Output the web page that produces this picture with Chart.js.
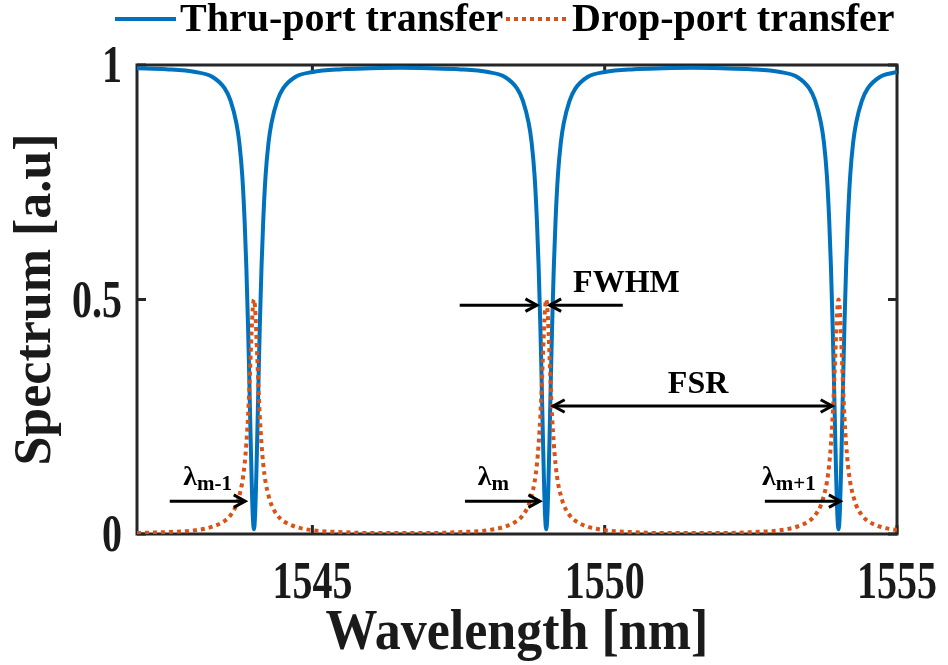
<!DOCTYPE html>
<html>
<head>
<meta charset="utf-8">
<script src="https://cdn.jsdelivr.net/npm/chart.js@4.4.1/dist/chart.umd.min.js"></script>
<style>
  html, body { margin: 0; padding: 0; background: #ffffff; }
  canvas { display: block; }
</style>
</head>
<body>
<canvas id="spectrum" width="948" height="665"></canvas>
<script>
// Wavelength samples [nm], dense around the three resonances
const wavelength = [
  1542.0, 1542.5, 1543.0, 1543.3, 1543.5, 1543.6, 1543.7, 1543.75, 1543.8, 1543.84, 1543.87,
  1543.9, 1543.92, 1543.94, 1543.96, 1543.98, 1544.0, 1544.02, 1544.04, 1544.06, 1544.08,
  1544.1, 1544.13, 1544.16, 1544.2, 1544.25, 1544.3, 1544.4, 1544.5, 1544.7, 1545.0, 1545.5, 1546.0,
  1546.5,
  1547.0, 1547.5, 1548.0, 1548.3, 1548.5, 1548.6, 1548.7, 1548.75, 1548.8, 1548.84, 1548.87,
  1548.9, 1548.92, 1548.94, 1548.96, 1548.98, 1549.0, 1549.02, 1549.04, 1549.06, 1549.08,
  1549.1, 1549.13, 1549.16, 1549.2, 1549.25, 1549.3, 1549.4, 1549.5, 1549.7, 1550.0, 1550.5, 1551.0,
  1551.5,
  1552.0, 1552.5, 1553.0, 1553.3, 1553.5, 1553.6, 1553.7, 1553.75, 1553.8, 1553.84, 1553.87,
  1553.9, 1553.92, 1553.94, 1553.96, 1553.98, 1554.0, 1554.02, 1554.04, 1554.06, 1554.08,
  1554.1, 1554.13, 1554.16, 1554.2, 1554.25, 1554.3, 1554.4, 1554.5, 1554.7, 1555.0
];

// Through-port transmission [a.u]
const thruPort = [
  0.993, 0.991, 0.985, 0.974, 0.950, 0.924, 0.876, 0.835, 0.765, 0.670, 0.570,
  0.440, 0.335, 0.225, 0.120, 0.040, 0.010, 0.040, 0.120, 0.225, 0.335,
  0.440, 0.570, 0.670, 0.765, 0.835, 0.876, 0.924, 0.950, 0.974, 0.985, 0.991, 0.993,
  0.994,
  0.993, 0.991, 0.985, 0.974, 0.950, 0.924, 0.876, 0.835, 0.765, 0.670, 0.570,
  0.440, 0.335, 0.225, 0.120, 0.040, 0.010, 0.040, 0.120, 0.225, 0.335,
  0.440, 0.570, 0.670, 0.765, 0.835, 0.876, 0.924, 0.950, 0.974, 0.985, 0.991, 0.993,
  0.994,
  0.993, 0.991, 0.985, 0.974, 0.950, 0.924, 0.876, 0.835, 0.765, 0.670, 0.570,
  0.440, 0.335, 0.225, 0.120, 0.040, 0.010, 0.040, 0.120, 0.225, 0.335,
  0.440, 0.570, 0.670, 0.765, 0.835, 0.876, 0.924, 0.950, 0.974, 0.985
];

// Drop-port transmission [a.u]
const dropPort = [
  0.002, 0.004, 0.008, 0.016, 0.028, 0.040, 0.062, 0.082, 0.110, 0.148, 0.192,
  0.252, 0.306, 0.368, 0.431, 0.481, 0.500, 0.481, 0.431, 0.368, 0.306,
  0.252, 0.192, 0.148, 0.110, 0.082, 0.062, 0.040, 0.028, 0.016, 0.008, 0.004, 0.002,
  0.002,
  0.002, 0.004, 0.008, 0.016, 0.028, 0.040, 0.062, 0.082, 0.110, 0.148, 0.192,
  0.252, 0.306, 0.368, 0.431, 0.481, 0.500, 0.481, 0.431, 0.368, 0.306,
  0.252, 0.192, 0.148, 0.110, 0.082, 0.062, 0.040, 0.028, 0.016, 0.008, 0.004, 0.002,
  0.002,
  0.002, 0.004, 0.008, 0.016, 0.028, 0.040, 0.062, 0.082, 0.110, 0.148, 0.192,
  0.252, 0.306, 0.368, 0.431, 0.481, 0.500, 0.481, 0.431, 0.368, 0.306,
  0.252, 0.192, 0.148, 0.110, 0.082, 0.062, 0.040, 0.028, 0.016, 0.008
];

const xTickValues = [1545, 1550, 1555];
const yTickValues = [0, 0.5, 1];
const yTickLabels = ['0', '0.5', '1'];

const seriesNames = ['Thru-port transfer', 'Drop-port transfer'];
const seriesColors = ['#0072BD', '#D95319'];

// Annotation arrows in data units: [x1, y1, x2, y2, head at start, head at end]
const arrows = [
  [1542.56, 0.070, 1543.85, 0.070, false, true],
  [1547.61, 0.070, 1548.89, 0.070, false, true],
  [1552.74, 0.070, 1554.03, 0.070, false, true],
  [1547.52, 0.488, 1548.84, 0.488, false, true],
  [1550.31, 0.488, 1549.06, 0.488, false, true],
  [1549.12, 0.273, 1553.89, 0.273, true, true]
];
// Resonance labels: [x, y baseline, subscript]
const lambdaLabels = [
  [1542.79, 0.105, 'm-1'],
  [1547.83, 0.105, 'm'],
  [1552.69, 0.105, 'm+1']
];
const textLabels = [
  [1549.46, 0.516, 'FWHM'],
  [1551.08, 0.300, 'FSR']
];

const SERIF = '"Liberation Serif", "Times New Roman", serif';
const INK = '#1a1a1a';

function toPx(chart, x, y) {
  return [chart.scales.x.getPixelForValue(x), chart.scales.y.getPixelForValue(y)];
}

// text drawn with a vertical stretch about its baseline
function tallText(ctx, s, x, y, stretch) {
  ctx.save();
  ctx.translate(x, y);
  ctx.scale(1, stretch);
  ctx.fillText(s, 0, 0);
  ctx.restore();
}

function arrowHead(ctx, tx, ty, fx, fy) {
  const a = Math.atan2(ty - fy, tx - fx);
  const len = 13, spread = 0.5;
  ctx.beginPath();
  ctx.moveTo(tx - len * Math.cos(a - spread), ty - len * Math.sin(a - spread));
  ctx.lineTo(tx, ty);
  ctx.lineTo(tx - len * Math.cos(a + spread), ty - len * Math.sin(a + spread));
  ctx.stroke();
}

const frameAndNotes = {
  id: 'frameAndNotes',
  beforeDatasetsDraw(chart) {
    const { ctx, chartArea: a } = chart;
    ctx.save();
    ctx.strokeStyle = '#262626';
    ctx.lineWidth = 3;
    ctx.strokeRect(a.left, a.top, a.right - a.left, a.bottom - a.top);
    // inward tick marks on all four sides
    chart.scales.x.ticks.forEach(t => {
      const px = chart.scales.x.getPixelForValue(t.value);
      ctx.beginPath();
      ctx.moveTo(px, a.bottom); ctx.lineTo(px, a.bottom - 9);
      ctx.moveTo(px, a.top); ctx.lineTo(px, a.top + 9);
      ctx.stroke();
    });
    chart.scales.y.ticks.forEach(t => {
      const py = chart.scales.y.getPixelForValue(t.value);
      ctx.beginPath();
      ctx.moveTo(a.left, py); ctx.lineTo(a.left + 9, py);
      ctx.moveTo(a.right, py); ctx.lineTo(a.right - 9, py);
      ctx.stroke();
    });
    ctx.restore();
  },
  afterDatasetsDraw(chart) {
    const { ctx } = chart;
    ctx.save();
    ctx.strokeStyle = '#000';
    ctx.fillStyle = '#000';
    ctx.lineWidth = 3;
    ctx.lineCap = 'butt';
    arrows.forEach(([x1, y1, x2, y2, h1, h2]) => {
      const [p1x, p1y] = toPx(chart, x1, y1);
      const [p2x, p2y] = toPx(chart, x2, y2);
      ctx.beginPath();
      ctx.moveTo(p1x, p1y); ctx.lineTo(p2x, p2y);
      ctx.stroke();
      if (h2) arrowHead(ctx, p2x, p2y, p1x, p1y);
      if (h1) arrowHead(ctx, p1x, p1y, p2x, p2y);
    });
    ctx.textBaseline = 'alphabetic';
    ctx.textAlign = 'left';
    lambdaLabels.forEach(([x, y, sub]) => {
      const [px, py] = toPx(chart, x, y);
      ctx.font = 'bold 28px ' + SERIF;
      ctx.fillText('λ', px, py);
      const w = ctx.measureText('λ').width;
      ctx.font = 'bold 21px ' + SERIF;
      ctx.fillText(sub, px + w, py + 5);
    });
    ctx.font = 'bold 32px ' + SERIF;
    textLabels.forEach(([x, y, s]) => {
      const [px, py] = toPx(chart, x, y);
      ctx.fillText(s, px, py);
    });
    ctx.restore();
  },
  afterDraw(chart) {
    const { ctx, chartArea: a } = chart;
    ctx.save();
    ctx.fillStyle = INK;
    ctx.font = 'bold 40px ' + SERIF;
    ctx.textBaseline = 'alphabetic';
    // x tick labels
    ctx.textAlign = 'center';
    chart.scales.x.ticks.forEach(t => {
      tallText(ctx, String(t.value), chart.scales.x.getPixelForValue(t.value), a.bottom + 64, 1.3);
    });
    // y tick labels
    ctx.textAlign = 'right';
    chart.scales.y.ticks.forEach((t, i) => {
      tallText(ctx, yTickLabels[i], a.left - 15, chart.scales.y.getPixelForValue(t.value) + 17, 1.3);
    });
    // axis titles
    ctx.font = 'bold 52px ' + SERIF;
    ctx.textAlign = 'center';
    tallText(ctx, 'Wavelength [nm]', (a.left + a.right) / 2, 649, 1.1);
    ctx.save();
    ctx.translate(50, (a.top + a.bottom) / 2);
    ctx.rotate(-Math.PI / 2);
    ctx.fillText('Spectrum [a.u]', 0, 0);
    ctx.restore();
    // legend
    ctx.font = 'bold 40px ' + SERIF;
    ctx.textAlign = 'left';
    ctx.fillStyle = '#000';
    ctx.lineWidth = 4;
    ctx.strokeStyle = seriesColors[0];
    ctx.beginPath(); ctx.moveTo(115, 19); ctx.lineTo(176, 19); ctx.stroke();
    ctx.fillText(seriesNames[0], 180, 31);
    ctx.strokeStyle = seriesColors[1];
    ctx.setLineDash([4, 4]);
    ctx.beginPath(); ctx.moveTo(506, 19); ctx.lineTo(569, 19); ctx.stroke();
    ctx.setLineDash([]);
    ctx.fillText(seriesNames[1], 572, 31);
    ctx.restore();
  }
};

new Chart(document.getElementById('spectrum'), {
  type: 'line',
  data: {
    labels: wavelength,
    datasets: [
      {
        label: seriesNames[0],
        data: wavelength.map((x, i) => ({ x, y: thruPort[i] })),
        borderColor: seriesColors[0],
        borderWidth: 4,
        pointRadius: 0,
        cubicInterpolationMode: 'monotone',
        fill: false,
        order: 2
      },
      {
        label: seriesNames[1],
        data: wavelength.map((x, i) => ({ x, y: dropPort[i] })),
        borderColor: seriesColors[1],
        borderWidth: 4,
        borderDash: [4, 4],
        borderCapStyle: 'butt',
        pointRadius: 0,
        cubicInterpolationMode: 'monotone',
        fill: false,
        order: 1
      }
    ]
  },
  options: {
    responsive: false,
    animation: false,
    events: [],
    layout: { padding: { top: 65, right: 51, left: 0, bottom: 0 } },
    plugins: { legend: { display: false }, tooltip: { enabled: false } },
    scales: {
      x: {
        type: 'linear',
        min: 1542,
        max: 1555,
        afterBuildTicks: s => { s.ticks = xTickValues.map(v => ({ value: v })); },
        afterFit: s => { s.height = 131; },
        ticks: { display: false },
        grid: { display: false },
        border: { display: false }
      },
      y: {
        min: 0,
        max: 1,
        afterBuildTicks: s => { s.ticks = yTickValues.map(v => ({ value: v })); },
        afterFit: s => { s.width = 137; },
        ticks: { display: false },
        grid: { display: false },
        border: { display: false }
      }
    }
  },
  plugins: [frameAndNotes]
});
</script>
</body>
</html>
